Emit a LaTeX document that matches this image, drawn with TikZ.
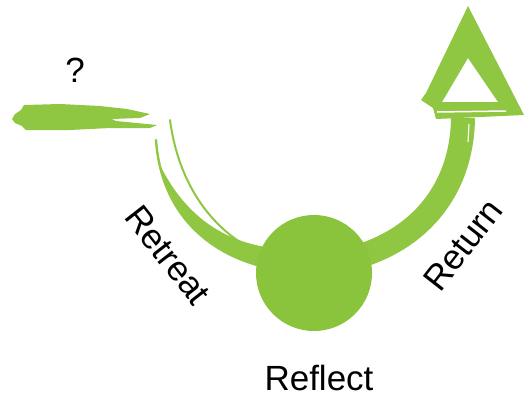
\documentclass[tikz,border=0pt]{standalone}
\usepackage{fontspec}
\setmainfont{Liberation Sans}
\usepackage{tikz}
\definecolor{brushgreen}{RGB}{143,199,66}
\definecolor{discgreen}{RGB}{138,195,60}
\tikzset{
	brush/.style={fill=brushgreen, draw=none},
	streak/.style={draw=brushgreen, line cap=round},
	label/.style={font=\fontsize{35}{40}\selectfont, inner sep=0pt}
}

\begin{document}
\begin{tikzpicture}[x=1pt, y=-1pt]
		%%%%% START %%%%%
		\useasboundingbox (0, 0) rectangle (524, 396);
		
		% left brush stroke, split at its right end
		\fill[brush] (12, 119) -- (15, 114) -- (21, 110) -- (24, 105) -- (60, 104) -- (100, 106) -- (127, 109)
			-- (150, 114) -- (140, 118) -- (112, 119) -- (116, 121) -- (157, 125) -- (150, 128)
			-- (110, 128) -- (70, 130) -- (26, 130) -- (22, 126) -- (15, 123) -- cycle;
		\node[label] (q) at (75, 70) {?};
		
		% left half of the swing: two thin strokes and a tapered body
		\draw[streak, line width=2.4pt] (156, 140) .. controls (162, 225) and (225, 268) .. (300, 272);
		\draw[streak, line width=2pt] (170, 120) .. controls (180, 195) and (222, 236) .. (258, 252);
		\fill[brush] (156, 140) .. controls (162, 225) and (225, 268) .. (300, 273)
			-- (300, 249) .. controls (245, 251) and (192, 230) .. (160, 165) -- cycle;
		
		% right half of the swing, up to the arrow
		\draw[draw=brushgreen, line width=24pt] (300, 266) .. controls (405, 262) and (462, 200) .. (463, 118);
		\draw[white, line width=1.2pt] (469, 124) -- (468, 142);
		
		% arrow head
		\fill[brush, even odd rule] (468, 6) -- (524, 115) -- (436, 119) -- (433, 108) -- (421, 100) -- (426, 93) -- cycle
			(468, 58) -- (498, 102) -- (442, 102) -- cycle;
		\draw[white, line width=1.5pt] (437, 112) -- (506, 111);
		
		% the disc
		\fill[discgreen] (314, 273) circle (58);
		
		\node[label, rotate=-52] (retreat) at (168, 255) {Retreat};
		\node[label, rotate=52] (return) at (463, 245) {Return};
		\node[label] (reflect) at (319, 378) {Reflect};
		%%%%% END %%%%%
\end{tikzpicture}
\end{document}
